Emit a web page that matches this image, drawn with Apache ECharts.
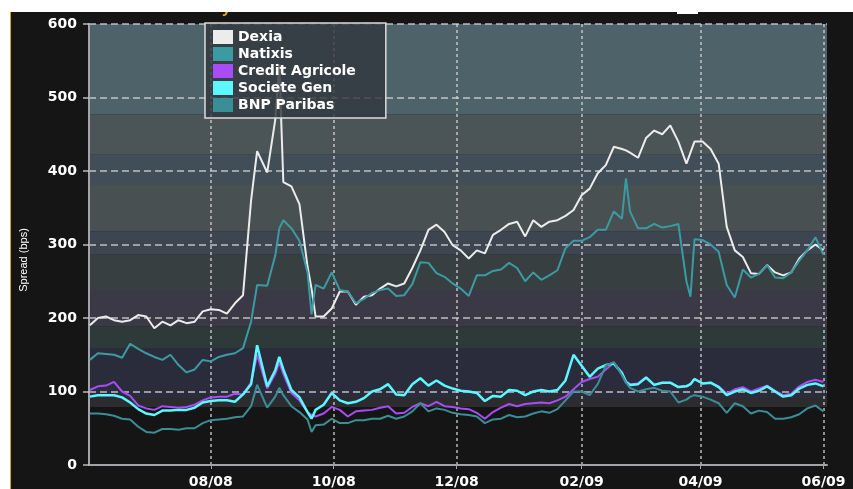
<!DOCTYPE html>
<html>
<head>
<meta charset="utf-8">
<title>Bank CDS spreads</title>
<script src="https://cdn.jsdelivr.net/npm/echarts@6/dist/echarts.min.js"></script>
<style>
    html, body { margin: 0; padding: 0; background: #ffffff; }
    #chart { width: 853px; height: 489px; }
</style>
</head>
<body>
<div id="chart"></div>
<script>
// sample dates (roughly every 4 days, plus a few spike days)
var dates = [
    '2008-06-02', '2008-06-06', '2008-06-10', '2008-06-14', '2008-06-18', '2008-06-22', '2008-06-26', '2008-06-30',
    '2008-07-04', '2008-07-08', '2008-07-12', '2008-07-16', '2008-07-20', '2008-07-24', '2008-07-28',
    '2008-08-01', '2008-08-05', '2008-08-09', '2008-08-13', '2008-08-17', '2008-08-21', '2008-08-24', '2008-08-29',
    '2008-09-02', '2008-09-04', '2008-09-06', '2008-09-10', '2008-09-14', '2008-09-18', '2008-09-20', '2008-09-22', '2008-09-26', '2008-09-30',
    '2008-10-04', '2008-10-08', '2008-10-12', '2008-10-16', '2008-10-20', '2008-10-24', '2008-10-28',
    '2008-11-01', '2008-11-05', '2008-11-09', '2008-11-13', '2008-11-17', '2008-11-21', '2008-11-25', '2008-11-29',
    '2008-12-03', '2008-12-07', '2008-12-11', '2008-12-15', '2008-12-19', '2008-12-23', '2008-12-27', '2008-12-31',
    '2009-01-04', '2009-01-08', '2009-01-12', '2009-01-16', '2009-01-20', '2009-01-24', '2009-01-28',
    '2009-02-01', '2009-02-05', '2009-02-09', '2009-02-13', '2009-02-17', '2009-02-21', '2009-02-23', '2009-02-25',
    '2009-03-01', '2009-03-05', '2009-03-09', '2009-03-13', '2009-03-17', '2009-03-21', '2009-03-25', '2009-03-27', '2009-03-29',
    '2009-04-02', '2009-04-06', '2009-04-10', '2009-04-14', '2009-04-18', '2009-04-22', '2009-04-26', '2009-04-30',
    '2009-05-04', '2009-05-08', '2009-05-12', '2009-05-16', '2009-05-20', '2009-05-24', '2009-05-28',
    '2009-06-01'
];

var dexia = [
    190, 200, 202, 197, 195, 197, 204, 202,
    186, 195, 190, 197, 193, 195, 209,
    212, 211, 206, 220, 231, 360, 427, 398,
    470, 545, 385, 379, 355, 270, 240, 202, 202, 213,
    236, 236, 218, 229, 231, 240, 247,
    243, 247, 268, 292, 320, 327, 317, 299,
    292, 281, 292, 288, 313, 320, 328, 331,
    311, 333, 324, 331, 333, 339, 347,
    367, 376, 397, 408, 433, 430, 428, 425,
    418, 445, 455, 450, 462, 440, 410, 425, 440,
    440, 430, 410, 324, 292, 283, 261, 260,
    272, 262, 258, 262, 281, 292, 300,
    292
];

var natixis = [
    143, 152, 151, 150, 146, 165, 158, 152,
    147, 143, 150, 136, 126, 130, 143,
    141, 147, 150, 152, 159, 195, 245, 244,
    285, 322, 333, 322, 305, 262, 205, 245, 240, 262,
    238, 236, 220, 226, 234, 238, 240,
    230, 231, 246, 276, 275, 261, 256, 247,
    240, 230, 258, 258, 264, 266, 275, 268,
    250, 262, 252, 258, 265, 295, 305,
    305, 310, 320, 320, 345, 335, 390, 345,
    322, 322, 328, 323, 325, 328, 250, 229, 307,
    306, 300, 290, 245, 228, 266, 255, 260,
    272, 255, 254, 262, 278, 292, 310,
    286
];

var creditAgricole = [
    102, 107, 108, 113, 100, 94, 81, 77,
    75, 80, 79, 78, 79, 82, 88,
    92, 93, 93, 97, 96, 112, 150, 104,
    124, 140, 124, 98, 88, 72, 68, 66, 70, 79,
    75, 66, 73, 74, 75, 78, 80,
    70, 71, 79, 84, 80, 86, 80, 79,
    77, 76, 71, 63, 72, 78, 83, 80,
    83, 84, 85, 84, 88, 93, 103,
    113, 117, 120, 130, 139, 126, 114, 110,
    111, 119, 109, 112, 112, 106, 108, 110, 117,
    111, 112, 107, 97, 103, 106, 100, 104,
    108, 101, 95, 97, 107, 113, 116,
    113
];

var societeGen = [
    93, 95, 95, 95, 92, 85, 76, 70,
    68, 74, 74, 75, 75, 78, 85,
    87, 88, 88, 86, 96, 110, 163, 107,
    129, 147, 130, 102, 92, 72, 63, 75, 82, 98,
    88, 84, 86, 91, 100, 103, 110,
    96, 95, 110, 118, 108, 115, 108, 104,
    101, 100, 98, 87, 94, 93, 102, 101,
    95, 100, 102, 100, 102, 115, 150,
    135, 120, 131, 136, 138, 125, 113, 109,
    110, 119, 109, 112, 112, 106, 107, 110, 117,
    111, 112, 106, 95, 100, 103, 98, 101,
    107, 100, 93, 95, 104, 109, 111,
    107
];

var bnpParibas = [
    70, 70, 69, 67, 63, 62, 52, 45,
    44, 49, 49, 48, 50, 50, 57,
    61, 62, 63, 65, 66, 80, 109, 78,
    93, 105, 95, 80, 72, 62, 45, 54, 55, 63,
    57, 57, 61, 61, 63, 63, 67,
    63, 66, 73, 84, 73, 77, 75, 71,
    69, 68, 66, 57, 62, 63, 68, 65,
    66, 70, 73, 71, 76, 88, 100,
    100, 95, 110, 135, 140, 122, 112, 105,
    100, 103, 105, 101, 100, 85, 89, 93, 95,
    93, 89, 84, 71, 84, 80, 70, 74,
    72, 63, 63, 65, 69, 77, 81,
    73
];

var tickDates = ['2008-08-01', '2008-10-01', '2008-12-01', '2009-02-01', '2009-04-01', '2009-06-01'];

// background bands (bps)
var bandEdges = [79, 91, 158, 188, 238, 286, 318, 381, 422, 477, 600];
var bandColors = ['#2c2c2e', '#2b2c3b', '#2e3a39', '#3a3945', '#373f40', '#3c4550', '#485051', '#414d57', '#4b5557', '#4e6269'];

var labelFont = 'DejaVu Sans';
var gridColor = 'rgba(215,215,215,0.85)';

function toTime(d) {
    return +echarts.time.parse(d);
}

function pairs(values) {
    return values.map(function (v, i) {
        return [toTime(dates[i]), v];
    });
}

function lineSeries(name, values, color, width) {
    return {
        name: name,
        type: 'line',
        data: pairs(values),
        showSymbol: false,
        symbol: 'none',
        silent: true,
        z: 3,
        itemStyle: { color: color },
        lineStyle: { color: color, width: width }
    };
}

var bandAreas = [];
for (var i = 0; i < bandColors.length; i++) {
    bandAreas.push([
        { yAxis: bandEdges[i], itemStyle: { color: bandColors[i] } },
        { yAxis: bandEdges[i + 1] }
    ]);
}

var ticks = tickDates.map(toTime);

function monthLabel(value) {
    var d = new Date(value);
    var m = d.getMonth() + 1;
    var y = d.getFullYear() % 100;
    return (m < 10 ? '0' : '') + m + '/' + (y < 10 ? '0' : '') + y;
}

var myChart = echarts.init(document.getElementById('chart'));

var option = {
    animation: false,
    backgroundColor: '#151515',
    grid: {
        left: 89,
        right: 26,
        top: 24,
        bottom: 24,
        containLabel: false,
        outerBoundsMode: 'none'
    },
    legend: {
        data: ['Dexia', 'Natixis', 'Credit Agricole', 'Societe Gen', 'BNP Paribas'],
        orient: 'vertical',
        left: 205,
        top: 23,
        icon: 'rect',
        itemWidth: 20,
        itemHeight: 14,
        itemGap: 3,
        padding: [7, 30, 6, 8],
        selectedMode: false,
        backgroundColor: 'rgba(50,56,62,0.82)',
        borderColor: '#dcdcdc',
        borderWidth: 1.5,
        textStyle: {
            color: '#ffffff',
            fontFamily: labelFont,
            fontWeight: 'bold',
            fontSize: 14
        }
    },
    xAxis: {
        type: 'value',
        min: +new Date(2008, 5, 1, 14),
        max: +new Date(2009, 5, 2, 18),
        z: 2,
        axisLine: { show: true, lineStyle: { color: '#a3a3a8', width: 2 } },
        axisTick: { show: true, length: 4, customValues: ticks, lineStyle: { color: '#a3a3a8' } },
        axisLabel: {
            customValues: ticks,
            formatter: monthLabel,
            color: '#ffffff',
            fontFamily: labelFont,
            fontWeight: 'bold',
            fontSize: 14,
            margin: 10
        },
        splitLine: { show: true, lineStyle: { color: gridColor, type: [3, 3], width: 1.5 } }
    },
    yAxis: {
        type: 'value',
        min: 0,
        max: 600,
        interval: 100,
        z: 2,
        axisLine: { show: true, lineStyle: { color: '#a3a3a8', width: 2 } },
        axisTick: { show: true, length: 6, lineStyle: { color: gridColor, width: 1.5 } },
        axisLabel: {
            color: '#ffffff',
            fontFamily: labelFont,
            fontWeight: 'bold',
            fontSize: 14,
            margin: 12
        },
        splitLine: { show: true, lineStyle: { color: gridColor, type: [7, 4], width: 1.5 } }
    },
    graphic: [
        { type: 'rect', z: 100, shape: { x: 0, y: 0, width: 853, height: 12 }, style: { fill: '#ffffff' } },
        { type: 'rect', z: 100, shape: { x: 0, y: 0, width: 10, height: 489 }, style: { fill: '#ffffff' } },
        { type: 'line', z: 100, shape: { x1: 10.5, y1: 12, x2: 10.5, y2: 489 }, style: { stroke: '#d9a520', lineWidth: 1 } },
        { type: 'rect', z: 100, shape: { x: 677, y: 11, width: 21, height: 3 }, style: { fill: '#ffffff' } },
        {
            type: 'text', z: 50, x: 222, y: 17,
            style: { text: 'y', fill: '#e8a020', font: 'bold 16px "Liberation Sans"', verticalAlign: 'bottom' }
        },
        {
            type: 'text', z: 50, x: 24, y: 260, rotation: Math.PI / 2,
            style: {
                text: 'Spread (bps)', fill: '#ffffff', font: '11px "Liberation Sans"',
                align: 'center', verticalAlign: 'middle'
            }
        }
    ],
    series: [
        {
            name: 'bands',
            type: 'line',
            data: [[ticks[0], 0]],
            showSymbol: false,
            symbol: 'none',
            silent: true,
            z: 1,
            lineStyle: { opacity: 0 },
            markArea: { silent: true, data: bandAreas }
        },
        lineSeries('Dexia', dexia, '#ececec', 2),
        lineSeries('Natixis', natixis, '#3b9ba3', 2),
        lineSeries('Credit Agricole', creditAgricole, '#a84cf5', 2),
        lineSeries('Societe Gen', societeGen, '#5cf8ff', 2.5),
        lineSeries('BNP Paribas', bnpParibas, '#3a8f96', 2)
    ]
};

myChart.setOption(option);
</script>
</body>
</html>
